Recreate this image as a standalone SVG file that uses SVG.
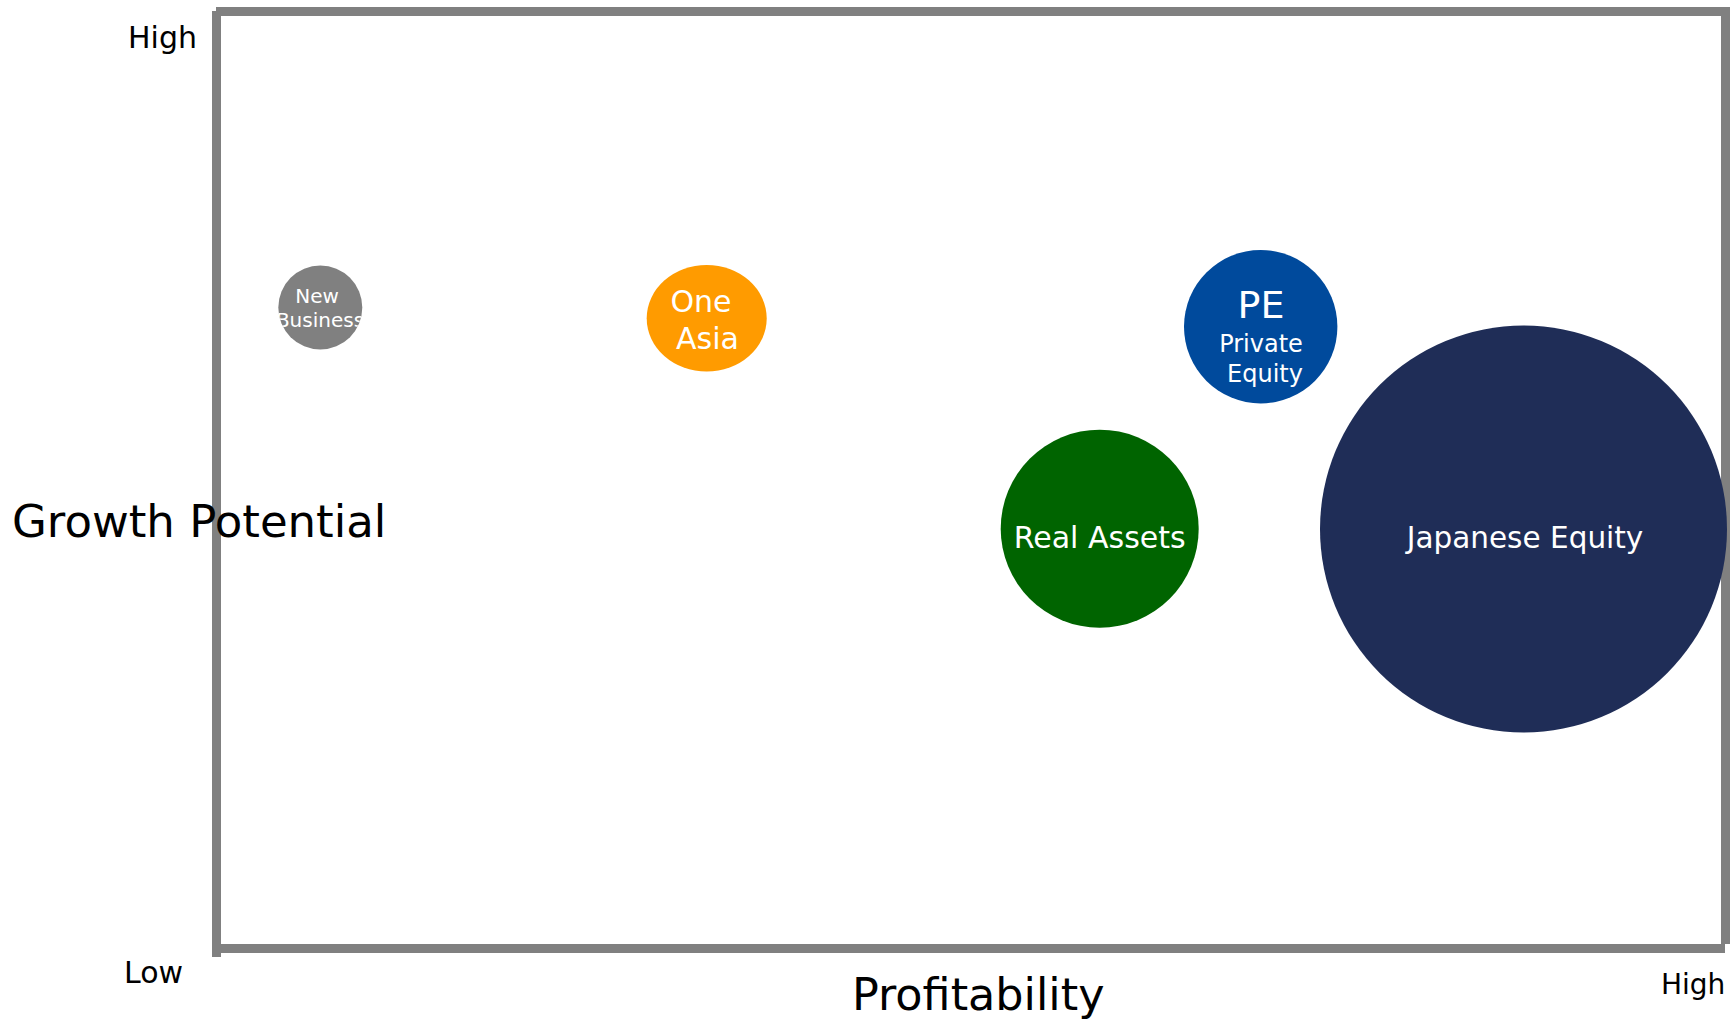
<svg xmlns="http://www.w3.org/2000/svg" width="1730" height="1019" viewBox="0 0 1730 1019">
<style>
.frame{fill:#808080}
.lbl{font-family:"DejaVu Sans","Liberation Sans",sans-serif;fill:#000}
.in{font-family:"DejaVu Sans","Liberation Sans",sans-serif;fill:#fff;text-anchor:middle}
</style>
<defs>
<clipPath id="nbclip"><circle cx="320.3" cy="307.5" r="42"/></clipPath>
</defs>
<rect width="1730" height="1019" fill="#fff"/>
<g id="frame">
<rect class="frame" x="216" y="7" width="1514" height="9"/>
<rect class="frame" x="212" y="11" width="9" height="946"/>
<rect class="frame" x="221" y="944" width="1504" height="9"/>
<rect class="frame" x="1721" y="16" width="9" height="928"/>
</g>
<g id="axis-labels">
<text class="lbl" x="197" y="47.5" font-size="30" text-anchor="end">High</text>
<text class="lbl" x="12" y="536.5" font-size="45">Growth Potential</text>
<text class="lbl" x="124" y="983" font-size="30">Low</text>
<text class="lbl" x="852" y="1010" font-size="44.5">Profitability</text>
<text class="lbl" x="1661" y="994" font-size="28">High</text>
</g>
<g id="new-business">
<circle cx="320.3" cy="307.5" r="42" fill="#808080"/>
<g clip-path="url(#nbclip)">
<text class="in" x="317" y="303" font-size="20">New</text>
<text class="in" x="320" y="327" font-size="20">Business</text>
</g>
</g>
<g id="one-asia">
<ellipse cx="706.7" cy="318.3" rx="60" ry="53.3" fill="#FF9B00"/>
<text class="in" x="701" y="311.5" font-size="30">One</text>
<text class="in" x="707.5" y="349.3" font-size="30">Asia</text>
</g>
<g id="pe">
<circle cx="1260.7" cy="326.7" r="76.7" fill="#004A9C"/>
<text class="in" x="1261" y="318.3" font-size="38">PE</text>
<text class="in" x="1261" y="352.3" font-size="24">Private</text>
<text class="in" x="1265" y="381.7" font-size="24">Equity</text>
</g>
<g id="real-assets">
<circle cx="1099.7" cy="528.7" r="99" fill="#006400"/>
<text class="in" x="1099.7" y="548.3" font-size="30">Real Assets</text>
</g>
<g id="japanese-equity">
<circle cx="1523.5" cy="529" r="203.5" fill="#1F2D57"/>
<text class="in" x="1525" y="548.3" font-size="29.5">Japanese Equity</text>
</g>
<g id="connectors"/>
</svg>
